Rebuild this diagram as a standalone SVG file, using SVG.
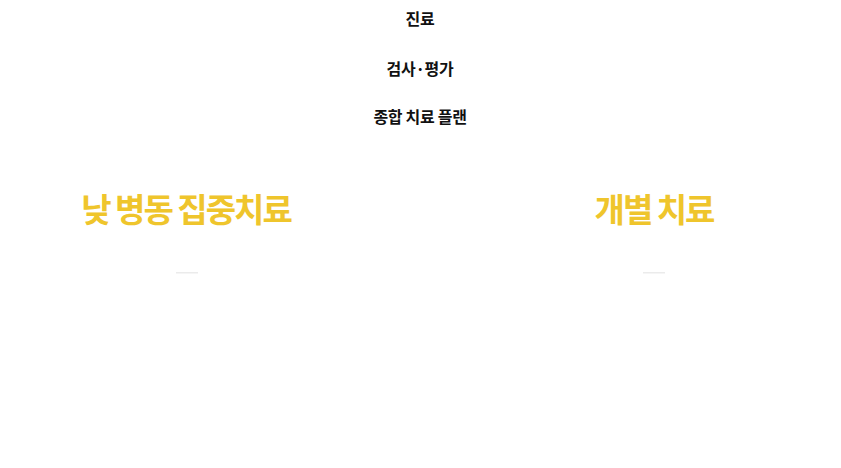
<svg xmlns="http://www.w3.org/2000/svg" width="841" height="468" viewBox="0 0 841 468">
<style>
.step{font-family:"Noto Sans CJK KR","Noto Sans",sans-serif;font-weight:700;font-size:16px;fill:#111;text-anchor:middle;letter-spacing:-0.3px}
.head{font-family:"Noto Sans CJK KR","Noto Sans",sans-serif;font-weight:700;font-size:33px;fill:#EFC52C;text-anchor:middle;letter-spacing:-2px}
.bar{fill:#ebebeb}
</style>
<rect width="841" height="468" fill="#ffffff"/>
<g id="step1"><text class="step" x="420" y="25">진료</text></g>
<g id="step2"><text class="step" x="420" y="75">검사·평가</text></g>
<g id="step3"><text class="step" x="420" y="123">종합 치료 플랜</text></g>
<g id="dayward"><text class="head" x="186" y="222">낮 병동 집중치료</text><rect class="bar" x="176" y="272" width="22" height="1.5"/></g>
<g id="individual"><text class="head" x="654" y="222">개별 치료</text><rect class="bar" x="643" y="272" width="22" height="1.5"/></g>
<g id="connectors"></g>
</svg>
